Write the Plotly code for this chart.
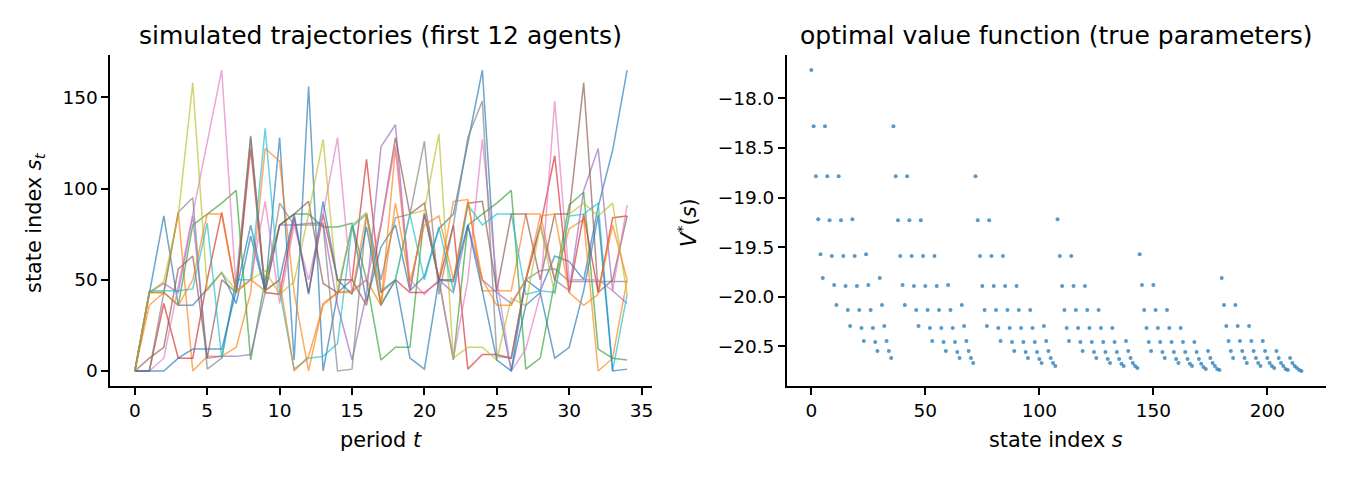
import plotly.graph_objects as go

# ---------------- data ----------------
periods = list(range(35))

traj_blue = [0, 43, 85, 36, 36, 45, 54, 37, 74, 44, 128, 6, 156, 0, 42, 80, 38, 68, 80, 44, 52, 78, 86, 125, 165, 40, 0, 50, 44, 63, 60, 50, 90, 121, 165]
traj_orange = [0, 36, 43, 87, 0, 8, 8, 13, 43, 122, 115, 43, 0, 37, 43, 44, 50, 36, 122, 44, 87, 50, 93, 94, 44, 44, 44, 86, 86, 50, 78, 83, 0, 7, 50]
traj_green = [0, 43, 43, 36, 80, 86, 92, 99, 6, 50, 80, 86, 86, 79, 79, 81, 50, 6, 13, 13, 86, 50, 6, 80, 86, 92, 99, 1, 7, 50, 91, 98, 12, 7, 6]
traj_red = [0, 0, 37, 7, 7, 50, 87, 43, 122, 43, 42, 84, 43, 86, 50, 50, 116, 43, 50, 43, 43, 49, 80, 1, 9, 9, 7, 50, 79, 118, 43, 86, 43, 84, 85]
traj_purple = [0, 43, 48, 43, 85, 7, 8, 8, 9, 43, 80, 80, 81, 81, 36, 6, 42, 123, 135, 44, 86, 50, 43, 80, 50, 43, 37, 50, 80, 50, 44, 99, 122, 44, 37]
traj_brown = [0, 7, 13, 56, 63, 7, 50, 43, 129, 44, 80, 86, 93, 48, 43, 50, 36, 80, 128, 86, 92, 50, 49, 92, 93, 44, 86, 86, 50, 86, 86, 158, 43, 50, 85]
traj_pink = [0, 0, 7, 46, 86, 126, 165, 44, 50, 93, 37, 80, 50, 86, 128, 43, 50, 80, 124, 50, 42, 50, 7, 50, 127, 50, 0, 12, 42, 148, 50, 50, 50, 44, 91]
traj_gray = [0, 0, 43, 87, 95, 1, 7, 50, 128, 43, 92, 80, 80, 80, 0, 1, 86, 50, 84, 86, 126, 42, 80, 128, 148, 8, 7, 50, 55, 56, 49, 49, 49, 49, 49]
traj_olive = [0, 43, 49, 85, 158, 44, 54, 44, 50, 55, 42, 49, 86, 127, 44, 80, 87, 37, 50, 86, 88, 130, 7, 13, 13, 6, 40, 36, 80, 42, 86, 92, 85, 92, 42]
traj_cyan = [0, 44, 44, 44, 45, 81, 7, 50, 50, 133, 44, 1, 7, 8, 15, 79, 86, 44, 50, 86, 50, 79, 44, 91, 80, 86, 86, 42, 44, 43, 85, 86, 92, 0, 42]
traj_blue2 = [0, 0, 0, 7, 12, 12, 12, 44, 80, 44, 50, 86, 42, 93, 50, 42, 79, 36, 50, 7, 1, 50, 50, 80, 44, 6, 0, 36, 43, 7, 13, 44, 85, 0, 1]
traj_orange2 = [0, 43, 43, 36, 50, 86, 86, 43, 50, 44, 50, 0, 8, 36, 43, 43, 86, 36, 92, 49, 80, 85, 50, 93, 50, 36, 36, 50, 85, 86, 43, 36, 42, 80, 50]

trajectories = [traj_blue, traj_orange, traj_green, traj_red, traj_purple, traj_brown,
                traj_pink, traj_gray, traj_olive, traj_cyan, traj_blue2, traj_orange2]
traj_colors = ["#1f77b4", "#ff7f0e", "#2ca02c", "#d62728", "#9467bd", "#8c564b",
               "#e377c2", "#7f7f7f", "#bcbd22", "#17becf", "#1f77b4", "#ff7f0e"]

state_index = list(range(216))
value_fn = [
    # a = 0
    -17.715, -18.282, -18.785, -19.218, -19.570, -19.811,
    -18.282, -18.785, -19.228, -19.590, -19.882, -20.083,
    -18.785, -19.228, -19.590, -19.892, -20.133, -20.294,
    -19.218, -19.590, -19.892, -20.133, -20.314, -20.445,
    -19.570, -19.882, -20.133, -20.314, -20.455, -20.546,
    -19.811, -20.083, -20.294, -20.445, -20.546, -20.616,
    # a = 1
    -18.282, -18.785, -19.228, -19.590, -19.882, -20.083,
    -18.785, -19.228, -19.590, -19.892, -20.133, -20.294,
    -19.228, -19.590, -19.892, -20.133, -20.314, -20.445,
    -19.590, -19.892, -20.133, -20.314, -20.455, -20.546,
    -19.882, -20.133, -20.314, -20.455, -20.556, -20.616,
    -20.083, -20.294, -20.445, -20.546, -20.616, -20.666,
    # a = 2
    -18.785, -19.228, -19.590, -19.892, -20.133, -20.294,
    -19.228, -19.590, -19.892, -20.133, -20.314, -20.445,
    -19.590, -19.892, -20.133, -20.314, -20.455, -20.546,
    -19.892, -20.133, -20.314, -20.455, -20.556, -20.616,
    -20.133, -20.314, -20.455, -20.556, -20.626, -20.666,
    -20.294, -20.445, -20.546, -20.616, -20.666, -20.697,
    # a = 3
    -19.218, -19.590, -19.892, -20.133, -20.314, -20.445,
    -19.590, -19.892, -20.133, -20.314, -20.455, -20.546,
    -19.892, -20.133, -20.314, -20.455, -20.556, -20.616,
    -20.133, -20.314, -20.455, -20.556, -20.626, -20.666,
    -20.314, -20.455, -20.556, -20.626, -20.676, -20.697,
    -20.445, -20.546, -20.616, -20.666, -20.697, -20.717,
    # a = 4
    -19.570, -19.882, -20.133, -20.314, -20.455, -20.546,
    -19.882, -20.133, -20.314, -20.455, -20.556, -20.616,
    -20.133, -20.314, -20.455, -20.556, -20.626, -20.666,
    -20.314, -20.455, -20.556, -20.626, -20.676, -20.697,
    -20.455, -20.556, -20.626, -20.676, -20.707, -20.727,
    -20.546, -20.616, -20.666, -20.697, -20.727, -20.737,
    # a = 5
    -19.811, -20.083, -20.294, -20.445, -20.546, -20.616,
    -20.083, -20.294, -20.445, -20.546, -20.616, -20.666,
    -20.294, -20.445, -20.546, -20.616, -20.666, -20.697,
    -20.445, -20.546, -20.616, -20.666, -20.697, -20.717,
    -20.546, -20.616, -20.666, -20.697, -20.727, -20.737,
    -20.616, -20.666, -20.697, -20.717, -20.737, -20.747,
]

left_xticks = [0, 5, 10, 15, 20, 25, 30, 35]
left_yticks = [0, 50, 100, 150]
right_xticks = [0, 50, 100, 150, 200]
right_yticks = [-18.0, -18.5, -19.0, -19.5, -20.0, -20.5]

# ---------------- figure ----------------
W, H = 1350, 480
FONT = "DejaVu Sans"
fig = go.Figure()

for ys, col in zip(trajectories, traj_colors):
    fig.add_trace(go.Scatter(x=periods, y=ys, mode="lines",
                             line=dict(color=col, width=1.5), opacity=0.65,
                             showlegend=False, hoverinfo="skip",
                             xaxis="x", yaxis="y"))

fig.add_trace(go.Scatter(x=state_index, y=value_fn, mode="markers",
                         marker=dict(color="#1f77b4", size=4, opacity=0.75,
                                     line=dict(width=0)),
                         showlegend=False, xaxis="x2", yaxis="y2"))

def px_x(p):
    return p / W

def px_y(p):
    return 1 - p / H

ax_common = dict(showgrid=False, zeroline=False, showline=True, linecolor="black",
                 linewidth=1.6, ticks="outside", ticklen=7, tickwidth=1.6,
                 tickcolor="black", tickfont=dict(family=FONT, size=18.5, color="black"),
                 mirror=False)

fig.update_layout(
    width=W, height=H, margin=dict(l=0, r=0, t=0, b=0),
    paper_bgcolor="white", plot_bgcolor="white", showlegend=False,
    xaxis=dict(domain=[px_x(110.4), px_x(652.7)], range=[-1.7, 35.7],
               tickvals=left_xticks, anchor="y", **ax_common),
    yaxis=dict(domain=[px_y(386), px_y(55)], range=[-8.25, 173.25],
               tickvals=left_yticks, anchor="x", **ax_common),
    xaxis2=dict(domain=[px_x(788), px_x(1328)], range=[-10.75, 225.75],
                tickvals=right_xticks, anchor="y2", **ax_common),
    yaxis2=dict(domain=[px_y(386), px_y(55)], range=[-20.899, -17.563],
                tickvals=right_yticks, tickformat=".1f", anchor="x2", **ax_common),
)

def ann(text, x, y, size, angle=0):
    fig.add_annotation(text=text, x=px_x(x), y=px_y(y), xref="paper", yref="paper",
                       showarrow=False, xanchor="center", yanchor="middle",
                       textangle=angle, font=dict(family=FONT, size=size, color="black"))

ann("simulated trajectories (first 12 agents)", 381.5, 36, 25)
ann("optimal value function (true parameters)", 1058, 36, 25)
ann("period <i>t</i>", 381.5, 440, 20.8)
ann("state index <i>s</i>", 1058, 440, 20.8)
ann("state index <i>s</i><sub><i>t</i></sub>", 35, 222, 20.8, -90)
ann("<i>V</i><sup>*</sup>(<i>s</i>)", 688, 222, 20.8, -90)

fig.write_html("out.html")
